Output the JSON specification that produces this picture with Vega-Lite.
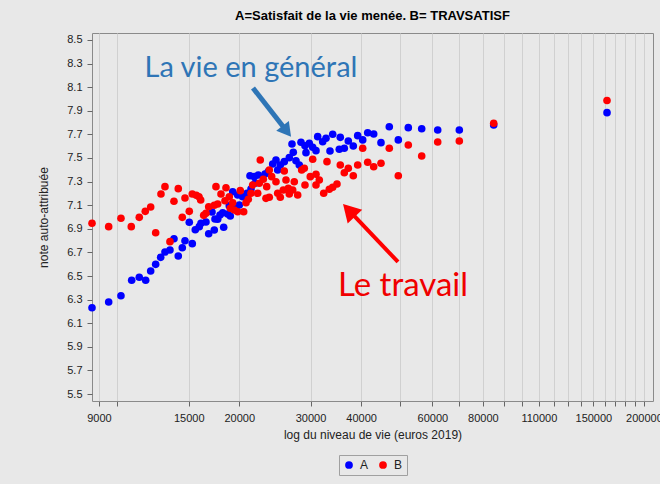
{
  "$schema": "https://vega.github.io/schema/vega-lite/v6.json",
  "width": 561,
  "height": 368,
  "padding": {"left": 37, "top": 10, "right": 8, "bottom": 8},
  "background": "#e8e8e8",
  "title": {"text": "A=Satisfait de la vie menée. B= TRAVSATISF", "font": "Liberation Sans", "fontSize": 13, "fontWeight": "bold", "color": "#000000", "offset": 10},
  "config": {
    "view": {"stroke": "#8a8a8a", "fill": "#e8e8e8"},
    "axis": {"domain": false, "labelFont": "Liberation Sans", "titleFont": "Liberation Sans", "labelFontSize": 11, "titleFontSize": 12, "titleFontWeight": "normal", "labelColor": "#222222", "titleColor": "#222222", "tickColor": "#666666", "tickSize": 5},
    "axisY": {"labelOverlap": false}
  },
  "encoding": {
    "x": {"field": "revenu", "type": "quantitative",
      "scale": {"type": "log", "domain": [8650, 210600], "nice": false, "zero": false},
      "axis": {"title": "log du niveau de vie (euros 2019)",
        "values": [9000,10000,15000,20000,30000,40000,50000,60000,70000,80000,90000,100000,110000,120000,130000,140000,150000,160000,170000,180000,190000,200000],
        "labelExpr": "indexof([9000,15000,20000,30000,40000,60000,80000,110000,150000,200000], datum.value) >= 0 ? format(datum.value, 'd') : ''",
        "labelOverlap": false, "labelFlush": false, "grid": true, "gridColor": "#d0d0d0", "labelPadding": 6, "titlePadding": 6}},
    "y": {"field": "note", "type": "quantitative",
      "scale": {"domain": [5.441, 8.559], "nice": false, "zero": false},
      "axis": {"title": "note auto-attribuée", "values": [5.5,5.7,5.9,6.1,6.3,6.5,6.7,6.9,7.1,7.3,7.5,7.7,7.9,8.1,8.3,8.5], "format": ".1f", "labelOverlap": false, "labelSeparation": 0, "grid": false, "labelPadding": 5, "titlePadding": 16}}
  },
  "layer": [
    {
      "data": {"values": [
        {"serie":"A","revenu":8650,"note":6.231},{"serie":"A","revenu":9511,"note":6.280},{"serie":"A","revenu":10200,"note":6.333},{"serie":"A","revenu":10841,"note":6.464},{"serie":"A","revenu":11320,"note":6.489},{"serie":"A","revenu":11740,"note":6.464},{"serie":"A","revenu":12079,"note":6.542},{"serie":"A","revenu":12427,"note":6.599},{"serie":"A","revenu":12786,"note":6.658},{"serie":"A","revenu":13103,"note":6.703},{"serie":"A","revenu":13481,"note":6.720},{"serie":"A","revenu":14133,"note":6.669},{"serie":"A","revenu":13791,"note":6.816},{"serie":"A","revenu":14459,"note":6.740},{"serie":"A","revenu":14683,"note":6.799},{"serie":"A","revenu":15305,"note":6.774},{"serie":"A","revenu":15046,"note":6.955},{"serie":"A","revenu":15569,"note":6.892},{"serie":"A","revenu":15927,"note":6.918},{"serie":"A","revenu":16082,"note":6.947},{"serie":"A","revenu":16546,"note":6.958},{"serie":"A","revenu":16803,"note":6.858},{"serie":"A","revenu":17347,"note":6.890},{"serie":"A","revenu":17121,"note":7.042},{"serie":"A","revenu":17416,"note":6.983},{"serie":"A","revenu":17686,"note":6.981},{"serie":"A","revenu":17919,"note":7.017},{"serie":"A","revenu":18300,"note":6.913},{"serie":"A","revenu":18196,"note":7.036},{"serie":"A","revenu":18721,"note":7.025},{"serie":"A","revenu":19000,"note":7.008},{"serie":"A","revenu":19262,"note":7.214},{"serie":"A","revenu":19818,"note":7.186},{"serie":"A","revenu":18893,"note":7.096},{"serie":"A","revenu":19627,"note":7.087},{"serie":"A","revenu":19999,"note":7.102},{"serie":"A","revenu":20390,"note":7.172},{"serie":"A","revenu":20895,"note":7.201},{"serie":"A","revenu":21255,"note":7.350},{"serie":"A","revenu":21376,"note":7.237},{"serie":"A","revenu":21781,"note":7.342},{"serie":"A","revenu":21868,"note":7.286},{"serie":"A","revenu":22283,"note":7.356},{"serie":"A","revenu":23149,"note":7.364},{"serie":"A","revenu":23588,"note":7.384},{"serie":"A","revenu":24186,"note":7.449},{"serie":"A","revenu":24644,"note":7.483},{"serie":"A","revenu":24884,"note":7.398},{"serie":"A","revenu":25255,"note":7.441},{"serie":"A","revenu":25836,"note":7.469},{"serie":"A","revenu":26582,"note":7.503},{"serie":"A","revenu":27194,"note":7.548},{"serie":"A","revenu":26994,"note":7.619},{"serie":"A","revenu":27615,"note":7.477},{"serie":"A","revenu":28139,"note":7.441},{"serie":"A","revenu":28412,"note":7.633},{"serie":"A","revenu":29066,"note":7.604},{"serie":"A","revenu":29232,"note":7.545},{"serie":"A","revenu":29787,"note":7.625},{"serie":"A","revenu":30369,"note":7.591},{"serie":"A","revenu":30944,"note":7.562},{"serie":"A","revenu":31245,"note":7.681},{"serie":"A","revenu":32147,"note":7.638},{"serie":"A","revenu":32756,"note":7.667},{"serie":"A","revenu":33511,"note":7.559},{"serie":"A","revenu":34030,"note":7.701},{"serie":"A","revenu":35332,"note":7.574},{"serie":"A","revenu":35534,"note":7.675},{"serie":"A","revenu":37189,"note":7.644},{"serie":"A","revenu":36352,"note":7.582},{"serie":"A","revenu":38262,"note":7.602},{"serie":"A","revenu":39232,"note":7.689},{"serie":"A","revenu":40365,"note":7.653},{"serie":"A","revenu":41530,"note":7.714},{"serie":"A","revenu":42973,"note":7.703},{"serie":"A","revenu":44795,"note":7.630},{"serie":"A","revenu":46962,"note":7.765},{"serie":"A","revenu":49430,"note":7.653},{"serie":"A","revenu":52325,"note":7.757},{"serie":"A","revenu":56472,"note":7.748},{"serie":"A","revenu":61857,"note":7.737},{"serie":"A","revenu":69950,"note":7.737},{"serie":"A","revenu":85068,"note":7.780},{"serie":"A","revenu":162112,"note":7.884},
        {"serie":"B","revenu":8650,"note":6.947},{"serie":"B","revenu":9511,"note":6.918},{"serie":"B","revenu":10200,"note":6.989},{"serie":"B","revenu":10816,"note":6.918},{"serie":"B","revenu":11320,"note":6.997},{"serie":"B","revenu":11713,"note":7.048},{"serie":"B","revenu":12079,"note":7.085},{"serie":"B","revenu":12427,"note":6.867},{"serie":"B","revenu":12808,"note":7.195},{"serie":"B","revenu":13103,"note":7.257},{"serie":"B","revenu":13481,"note":6.791},{"serie":"B","revenu":13791,"note":7.133},{"serie":"B","revenu":14133,"note":7.240},{"serie":"B","revenu":14459,"note":6.997},{"serie":"B","revenu":14683,"note":7.161},{"serie":"B","revenu":15046,"note":7.048},{"serie":"B","revenu":15305,"note":7.195},{"serie":"B","revenu":15658,"note":7.184},{"serie":"B","revenu":15900,"note":7.172},{"serie":"B","revenu":16055,"note":7.144},{"serie":"B","revenu":16331,"note":7.014},{"serie":"B","revenu":16546,"note":7.031},{"serie":"B","revenu":16803,"note":7.087},{"serie":"B","revenu":17347,"note":7.099},{"serie":"B","revenu":17515,"note":7.257},{"serie":"B","revenu":17686,"note":7.110},{"serie":"B","revenu":18021,"note":7.195},{"serie":"B","revenu":18541,"note":7.248},{"serie":"B","revenu":18436,"note":7.138},{"serie":"B","revenu":18893,"note":7.172},{"serie":"B","revenu":19000,"note":7.074},{"serie":"B","revenu":19262,"note":7.121},{"serie":"B","revenu":19438,"note":7.059},{"serie":"B","revenu":19818,"note":7.045},{"serie":"B","revenu":20113,"note":7.223},{"serie":"B","revenu":20506,"note":7.045},{"serie":"B","revenu":20776,"note":7.121},{"serie":"B","revenu":21050,"note":7.150},{"serie":"B","revenu":21376,"note":7.201},{"serie":"B","revenu":21584,"note":7.271},{"serie":"B","revenu":22207,"note":7.201},{"serie":"B","revenu":22410,"note":7.286},{"serie":"B","revenu":22538,"note":7.483},{"serie":"B","revenu":22926,"note":7.320},{"serie":"B","revenu":23374,"note":7.257},{"serie":"B","revenu":23281,"note":7.158},{"serie":"B","revenu":23722,"note":7.167},{"serie":"B","revenu":23722,"note":7.398},{"serie":"B","revenu":24049,"note":7.342},{"serie":"B","revenu":24644,"note":7.299},{"serie":"B","revenu":24884,"note":7.201},{"serie":"B","revenu":25255,"note":7.167},{"serie":"B","revenu":25836,"note":7.390},{"serie":"B","revenu":26088,"note":7.314},{"serie":"B","revenu":26431,"note":7.243},{"serie":"B","revenu":25690,"note":7.229},{"serie":"B","revenu":26582,"note":7.195},{"serie":"B","revenu":27349,"note":7.299},{"serie":"B","revenu":27102,"note":7.229},{"serie":"B","revenu":27884,"note":7.186},{"serie":"B","revenu":28526,"note":7.398},{"serie":"B","revenu":28951,"note":7.413},{"serie":"B","revenu":30369,"note":7.489},{"serie":"B","revenu":29957,"note":7.342},{"serie":"B","revenu":30944,"note":7.362},{"serie":"B","revenu":31531,"note":7.314},{"serie":"B","revenu":29066,"note":7.271},{"serie":"B","revenu":30944,"note":7.271},{"serie":"B","revenu":32943,"note":7.469},{"serie":"B","revenu":33377,"note":7.235},{"serie":"B","revenu":32330,"note":7.201},{"serie":"B","revenu":34030,"note":7.252},{"serie":"B","revenu":34872,"note":7.280},{"serie":"B","revenu":35534,"note":7.441},{"serie":"B","revenu":36352,"note":7.375},{"serie":"B","revenu":37189,"note":7.413},{"serie":"B","revenu":38262,"note":7.350},{"serie":"B","revenu":39232,"note":7.441},{"serie":"B","revenu":40365,"note":7.582},{"serie":"B","revenu":41530,"note":7.464},{"serie":"B","revenu":42973,"note":7.426},{"serie":"B","revenu":44795,"note":7.455},{"serie":"B","revenu":46962,"note":7.582},{"serie":"B","revenu":49430,"note":7.350},{"serie":"B","revenu":52325,"note":7.610},{"serie":"B","revenu":56472,"note":7.517},{"serie":"B","revenu":61857,"note":7.636},{"serie":"B","revenu":69950,"note":7.644},{"serie":"B","revenu":85068,"note":7.794},{"serie":"B","revenu":162112,"note":7.987}
      ]},
      "mark": {"type": "circle", "size": 58, "opacity": 1},
      "encoding": {
        "color": {"field": "serie", "type": "nominal",
          "scale": {"domain": ["A", "B"], "range": ["#0000ff", "#ff0000"]},
          "legend": {"orient": "none", "legendX": 247, "legendY": 422, "direction": "horizontal", "title": null, "symbolType": "circle", "symbolSize": 60, "labelFont": "Liberation Sans", "labelFontSize": 12, "labelColor": "#222222", "strokeColor": "#a0a0a0", "padding": 4, "columnPadding": 8, "labelOffset": 5}}
      }
    },
    {
      "data": {"values": [{"revenu": 21621, "note": 8.093, "revenu2": 26207, "note2": 7.726}]},
      "mark": {"type": "rule", "strokeWidth": 5, "color": "#2e75b6"},
      "encoding": {"x2": {"field": "revenu2"}, "y2": {"field": "note2"}}
    },
    {
      "data": {"values": [{"revenu": 26207, "note": 7.726}]},
      "mark": {"type": "point", "shape": "triangle-up", "filled": true, "opacity": 1, "size": 256, "angle": 142, "color": "#2e75b6"},
      "encoding": {}
    },
    {
      "data": {"values": [{"revenu": 49346, "note": 6.619, "revenu2": 37337, "note2": 7.057}]},
      "mark": {"type": "rule", "strokeWidth": 4, "color": "#ff0000"},
      "encoding": {"x2": {"field": "revenu2"}, "y2": {"field": "note2"}}
    },
    {
      "data": {"values": [{"revenu": 37337, "note": 7.057}]},
      "mark": {"type": "point", "shape": "triangle-up", "filled": true, "opacity": 1, "size": 400, "angle": 316.5, "color": "#ff0000"},
      "encoding": {}
    },
    {
      "data": {"values": [{"revenu": 21376, "note": 8.263, "texte": "La vie en général"}]},
      "mark": {"type": "text", "font": "Lato", "fontSize": 29, "color": "#2e75b6", "align": "center", "baseline": "middle"},
      "encoding": {"text": {"field": "texte"}}
    },
    {
      "data": {"values": [{"revenu": 50771, "note": 6.415, "texte": "Le travail"}]},
      "mark": {"type": "text", "font": "Lato", "fontSize": 33, "color": "#f00000", "align": "center", "baseline": "middle"},
      "encoding": {"text": {"field": "texte"}}
    }
  ]
}
